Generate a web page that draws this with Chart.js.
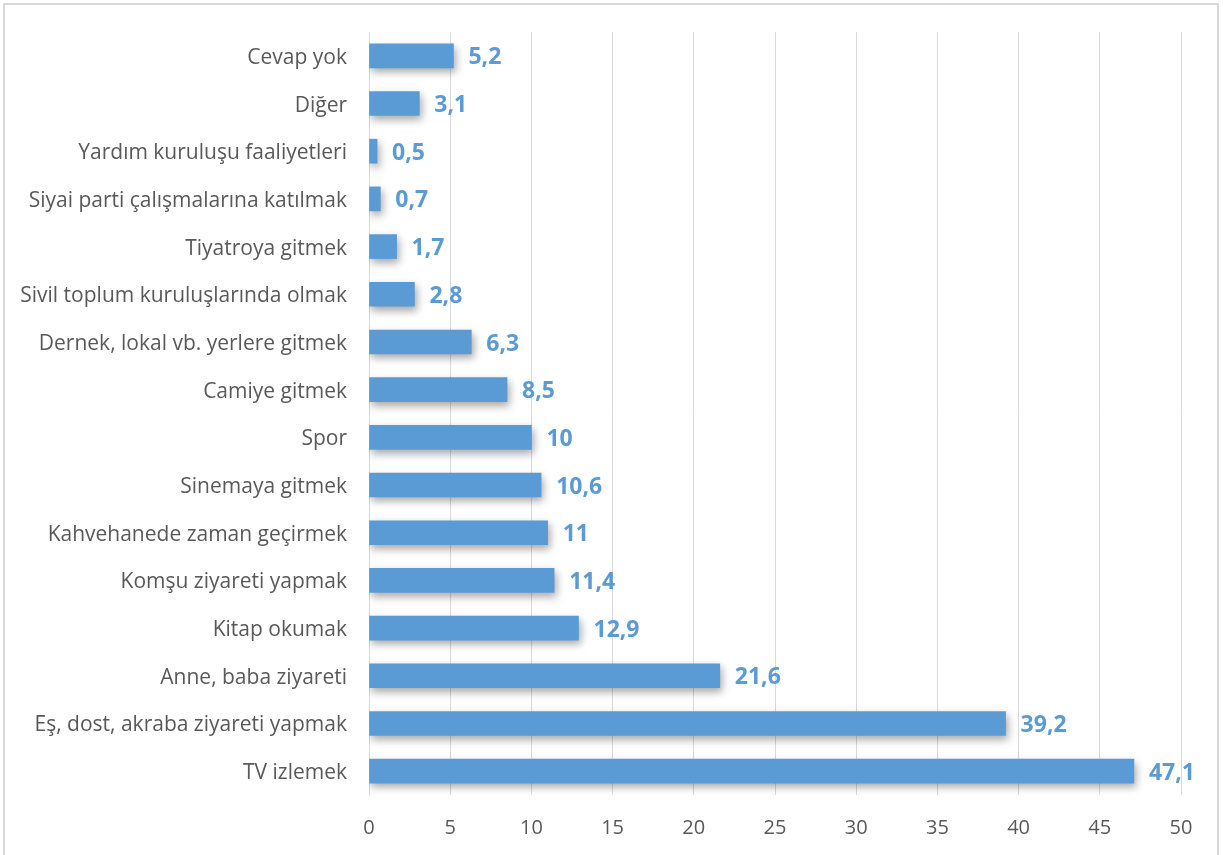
<!DOCTYPE html>
<html>
<head>
<meta charset="utf-8">
<script src="https://cdn.jsdelivr.net/npm/chart.js@4"></script>
<style>
  body { margin: 0; background: #fff; }
  #wrap { position: relative; width: 1223px; height: 855px; }
  #frame { position: absolute; left: 3px; top: 3px; width: 1216px; height: 852px; border: 2px solid #d9d9d9; border-bottom: none; box-sizing: border-box; pointer-events: none; }
</style>
</head>
<body>
<div id="wrap">
  <canvas id="chart" width="1223" height="855"></canvas>
  <div id="frame"></div>
</div>
<script>
// kategoriler (yukarıdan aşağıya)
const categories = [
  'Cevap yok', 'Diğer', 'Yardım kuruluşu faaliyetleri', 'Siyai parti çalışmalarına katılmak',
  'Tiyatroya gitmek', 'Sivil toplum kuruluşlarında olmak', 'Dernek, lokal vb. yerlere gitmek',
  'Camiye gitmek', 'Spor', 'Sinemaya gitmek', 'Kahvehanede zaman geçirmek',
  'Komşu ziyareti yapmak', 'Kitap okumak', 'Anne, baba ziyareti',
  'Eş, dost, akraba ziyareti yapmak', 'TV izlemek'
];
const values = [5.2, 3.1, 0.5, 0.7, 1.7, 2.8, 6.3, 8.5, 10, 10.6, 11, 11.4, 12.9, 21.6, 39.2, 47.1];
const xTicks = [0, 5, 10, 15, 20, 25, 30, 35, 40, 45, 50];

const barColor = '#5B9BD5';
const fontName = '"Open Sans", Lato, sans-serif';

// çubuk gölgesi
const shadowPlugin = {
  id: 'barShadow',
  beforeDatasetsDraw(chart) {
    const ctx = chart.ctx;
    ctx.save();
    ctx.shadowColor = 'rgba(0,0,0,0.35)';
    ctx.shadowBlur = 8;
    ctx.shadowOffsetX = 2;
    ctx.shadowOffsetY = 4;
  },
  afterDatasetsDraw(chart) {
    chart.ctx.restore();
  }
};

// değer etiketleri
const labelPlugin = {
  id: 'valueLabels',
  afterDatasetsDraw(chart) {
    const ctx = chart.ctx;
    const meta = chart.getDatasetMeta(0);
    ctx.save();
    ctx.font = 'bold 23px ' + fontName;
    ctx.fillStyle = barColor;
    ctx.textAlign = 'left';
    ctx.textBaseline = 'middle';
    meta.data.forEach((bar, i) => {
      ctx.fillText(String(values[i]).replace('.', ','), bar.x + 15, bar.y + 2);
    });
    ctx.restore();
  }
};

new Chart(document.getElementById('chart'), {
  type: 'bar',
  data: {
    labels: categories,
    datasets: [{
      data: values,
      backgroundColor: barColor,
      barThickness: 24,
      borderWidth: 0
    }]
  },
  options: {
    indexAxis: 'y',
    responsive: false,
    animation: false,
    layout: { padding: { top: 32, right: 42, left: 0, bottom: 0 } },
    plugins: { legend: { display: false }, tooltip: { enabled: false } },
    scales: {
      x: {
        min: 0, max: 50,
        afterBuildTicks(scale) { scale.ticks = xTicks.map(v => ({ value: v })); },
        afterFit(scale) { scale.height = 60; },
        grid: { color: '#d9d9d9', drawTicks: false },
        border: { display: false },
        ticks: { color: '#595959', font: { family: fontName, size: 20 }, padding: 21 }
      },
      y: {
        afterFit(scale) { scale.width = 369; },
        grid: { display: false },
        border: { display: true, color: '#d9d9d9' },
        ticks: { color: '#595959', font: { family: fontName, size: 21 }, padding: 14, labelOffset: 2, autoSkip: false }
      }
    }
  },
  plugins: [shadowPlugin, labelPlugin]
});
</script>
</body>
</html>
